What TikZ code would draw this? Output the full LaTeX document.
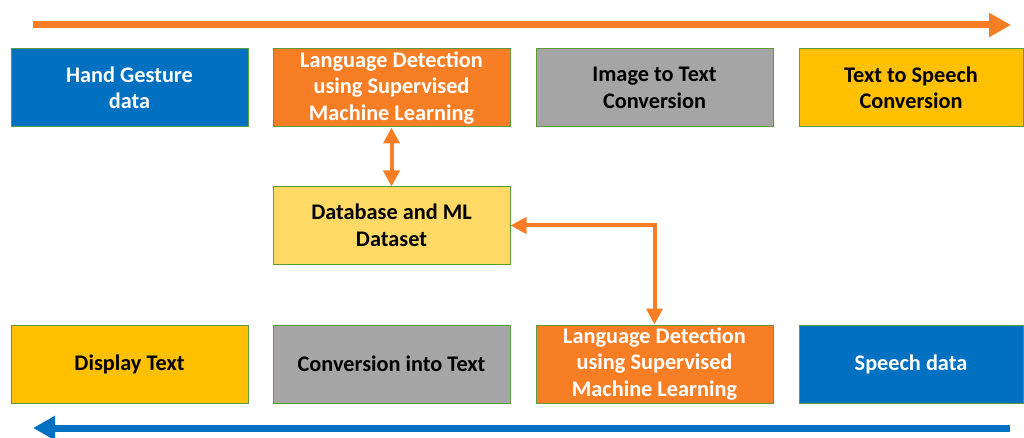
\documentclass[tikz,border=0pt]{standalone}
\usepackage{fontspec}
\setmainfont{Carlito}
\usetikzlibrary{arrows.meta}
\definecolor{cblue}{HTML}{0070C0}
\definecolor{corange}{HTML}{F87E26}
\definecolor{cgold}{HTML}{FFC000}
\definecolor{cgray}{HTML}{A5A5A5}
\definecolor{cyel}{HTML}{FFD966}
\definecolor{cgreen}{HTML}{5B9B3A}
\tikzset{
  box/.style={draw=cgreen, line width=1pt, minimum height=78pt, inner sep=0pt,
    align=center, font=\fontsize{22.3}{26.5}\selectfont\bfseries},
  bigarrow/.style={line width=7pt, -{Triangle[length=22pt,width=23pt]}},
  link/.style={draw=corange, line width=4pt, {Triangle[length=16pt,width=16pt]}-{Triangle[length=16pt,width=16pt]}}
}
\begin{document}
\begin{tikzpicture}[x=1pt,y=-1pt]
\useasboundingbox (0,0) rectangle (1024,438);
% top row
\node[box, fill=cblue, text=white, minimum width=237pt] (hg) at (129.5,88) {Hand Gesture\\data};
\node[box, fill=corange, text=white, minimum width=237pt] (ld1) at (391.5,88) {Language Detection\\using Supervised\\Machine Learning};
\node[box, fill=cgray, text=black, minimum width=237pt] (itt) at (654.5,88) {Image to Text\\Conversion};
\node[box, fill=cgold, text=black, minimum width=224pt] (tts) at (911,88) {Text to Speech\\Conversion};
% middle
\node[box, fill=cyel, text=black, minimum width=237pt, minimum height=77pt] (db) at (391.5,225.5) {Database and ML\\Dataset};
% bottom row
\node[box, fill=cgold, text=black, minimum width=237pt] (dt) at (129.5,364) {Display Text};
\node[box, fill=cgray, text=black, minimum width=237pt] (cit) at (391.5,364) {Conversion into Text};
\node[box, fill=corange, text=white, minimum width=237pt] (ld2) at (654.5,364) {Language Detection\\using Supervised\\Machine Learning};
\node[box, fill=cblue, text=white, minimum width=224pt] (sd) at (911,364) {Speech data};
% flow arrows
\coordinate (ts) at (33,25);
\coordinate (te) at (1011,25);
\coordinate (bs) at (1010,428);
\coordinate (be) at (33,428);
\draw[bigarrow, draw=corange, -{Triangle[length=22pt,width=23pt]}] (ts) -- (te);
\draw[bigarrow, draw=cblue, fill=cblue, color=cblue] (bs) -- (be);
% links
\draw[link] (ld1.south) -- (db.north);
\draw[link] (db.east) -| (ld2.north);
\end{tikzpicture}
\end{document}
